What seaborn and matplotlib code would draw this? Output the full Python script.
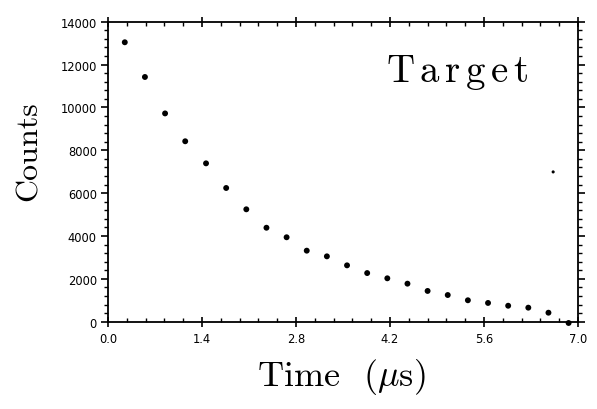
import matplotlib
matplotlib.use("Agg")
import matplotlib.pyplot as plt
from matplotlib.ticker import MultipleLocator, FormatStrFormatter
import seaborn as sns
import pandas as pd

# Data
time_us = [0.25, 0.55, 0.85, 1.15, 1.46, 1.76, 2.06, 2.36, 2.66, 2.96, 3.26, 3.56,
           3.86, 4.16, 4.46, 4.76, 5.06, 5.36, 5.66, 5.96, 6.26, 6.56, 6.86]
counts = [13040, 11420, 9720, 8420, 7390, 6240, 5245, 4385, 3940, 3315, 3050, 2630,
          2270, 2025, 1775, 1435, 1245, 1000, 875, 745, 655, 420, -60]
stray_time = [6.63]
stray_counts = [6990]

x_ticks = [0.0, 1.4, 2.8, 4.2, 5.6, 7.0]
y_ticks = [0, 2000, 4000, 6000, 8000, 10000, 12000, 14000]

sns.set_style("ticks")
plt.rcParams["mathtext.fontset"] = "cm"
plt.rcParams["text.color"] = "black"
plt.rcParams["xtick.color"] = "black"
plt.rcParams["ytick.color"] = "black"
plt.rcParams["axes.labelcolor"] = "black"

df = pd.DataFrame({"Time": time_us, "Counts": counts})
df2 = pd.DataFrame({"Time": stray_time, "Counts": stray_counts})

fig = plt.figure(figsize=(5.97, 4.10), dpi=100)
ax = fig.add_axes([108/597, 1-322.7/410, 470/597, 300/410])

sns.scatterplot(data=df, x="Time", y="Counts", ax=ax, color="black", s=18,
                edgecolor="none", linewidth=0, clip_on=False, zorder=3)
sns.scatterplot(data=df2, x="Time", y="Counts", ax=ax, color="black", s=5,
                marker="o", edgecolor="none", linewidth=0)

ax.set_xlim(0, 7.0)
ax.set_ylim(0, 14000)
ax.set_xticks(x_ticks)
ax.set_yticks(y_ticks)
ax.xaxis.set_major_formatter(FormatStrFormatter("%.1f"))
ax.xaxis.set_minor_locator(MultipleLocator(0.28))
ax.yaxis.set_minor_locator(MultipleLocator(400))

for sp in ax.spines.values():
    sp.set_visible(True)
    sp.set_linewidth(1.3)
    sp.set_color("black")

ax.tick_params(axis="x", which="major", direction="inout", length=7, width=1.2,
               top=True, bottom=True, labelsize=8.3, pad=4)
ax.tick_params(axis="x", which="minor", direction="in", length=3, width=1.0,
               top=True, bottom=True)
ax.tick_params(axis="y", which="major", direction="out", length=5, width=1.2,
               left=True, right=True, labelsize=8.3, pad=3)
ax.tick_params(axis="y", which="minor", direction="out", length=3, width=1.0,
               left=True, right=True)
for lab in ax.get_xticklabels() + ax.get_yticklabels():
    lab.set_family("DejaVu Sans")
    lab.set_color("black")

ax.set_xlabel(r"Time  ($\mu$s)", family="cmr10", fontsize=26, color="black")
ax.set_ylabel("Counts", family="cmr10", fontsize=23, color="black")
ax.xaxis.set_label_coords(0.496, -0.115)
ax.yaxis.set_label_coords(-0.138, 0.572)

ax.text(0.744, 0.802, r"$\mathrm{T\,a\,r\,g\,e\,t}$", transform=ax.transAxes,
        fontsize=28, ha="center", va="baseline", color="black")

fig.savefig("out.png", dpi=100)
